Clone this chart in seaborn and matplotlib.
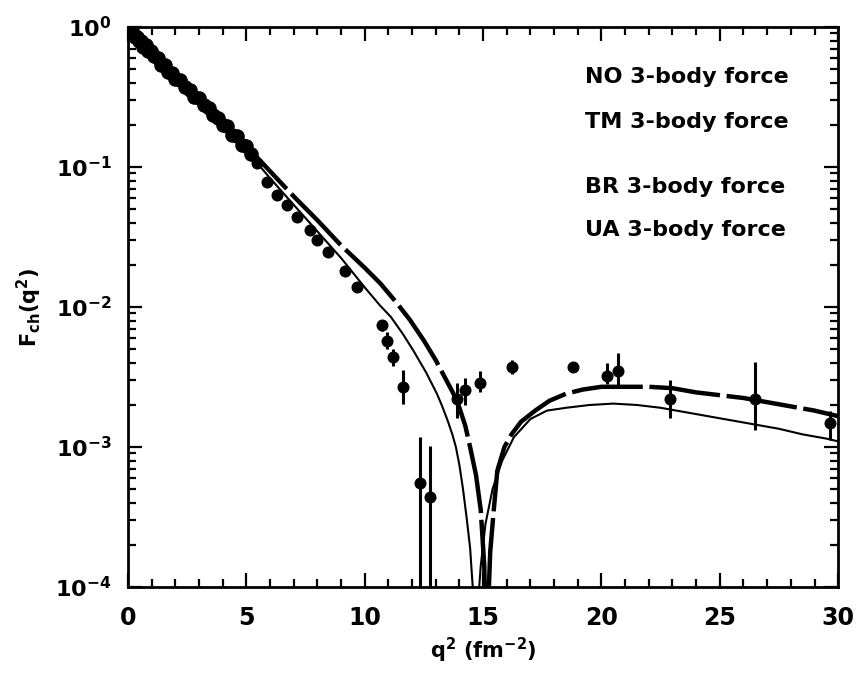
import numpy as np
import pandas as pd
import matplotlib
matplotlib.use("Agg")
import matplotlib.pyplot as plt
from matplotlib.ticker import FixedLocator, FixedFormatter, LogLocator, NullFormatter, MultipleLocator
import seaborn as sns

# ---------------- data (log10 F) ----------------
q_thick = [0, 1, 2, 3, 4, 5, 6, 7, 8, 9, 10, 10.65, 11.3, 11.9, 12.5, 13.0, 13.5, 13.75,
           14.0, 14.25, 14.45, 14.7, 14.9, 15.05, 15.13, 15.2, 15.3, 15.45, 15.6, 15.9,
           16.2, 16.6, 17.2, 17.8, 18.5, 19.2, 20, 21, 22, 23, 24, 25, 26, 27, 28, 29, 30]
log_thick = [0, -0.17, -0.34, -0.51, -0.68, -0.85, -1.03, -1.21, -1.38, -1.56, -1.72, -1.83,
             -1.96, -2.09, -2.24, -2.38, -2.54, -2.62, -2.72, -2.85, -3.0, -3.2, -3.45,
             -3.85, -4.6, -4.2, -3.75, -3.45, -3.17, -3.0, -2.91, -2.82, -2.74, -2.67,
             -2.62, -2.59, -2.57, -2.57, -2.57, -2.58, -2.61, -2.63, -2.65, -2.68, -2.71,
             -2.74, -2.78]

q_thin = [0, 1, 2, 3, 4, 5, 6, 7, 8, 9, 10, 10.65, 11.1, 11.6, 12.05, 12.6, 13.05, 13.25,
          13.5, 13.7, 13.85, 14.0, 14.15, 14.3, 14.45, 14.57, 14.65, 14.75, 14.9, 15.1,
          15.4, 15.8, 16.3, 17.0, 17.7, 18.5, 19.5, 20.5, 21.5, 22.5, 23.5, 24.5, 25.5,
          26.5, 27.5, 28.5, 29.5, 30]
log_thin = [0, -0.17, -0.34, -0.52, -0.70, -0.88, -1.08, -1.27, -1.46, -1.65, -1.86, -1.99,
            -2.07, -2.19, -2.31, -2.47, -2.62, -2.70, -2.81, -2.91, -3.0, -3.13, -3.3,
            -3.5, -3.72, -4.02, -4.6, -4.2, -3.85, -3.55, -3.3, -3.1, -2.93, -2.8, -2.74,
            -2.72, -2.70, -2.69, -2.70, -2.72, -2.75, -2.78, -2.81, -2.84, -2.87, -2.91,
            -2.94, -2.96]

band_q = [0.08, 0.15, 0.22, 0.3, 0.38, 0.45, 0.55, 0.65, 0.75, 0.85, 0.95, 1.1, 1.25, 1.4,
          1.55, 1.7, 1.85, 2.0, 2.2, 2.4, 2.6, 2.8, 3.0, 3.2, 3.4, 3.6, 3.8, 4.0, 4.2, 4.4,
          4.6, 4.8, 5.0, 5.2]
band_log = [-0.02, -0.04, -0.04, -0.07, -0.07, -0.10, -0.10, -0.14, -0.13, -0.17, -0.17,
            -0.21, -0.22, -0.27, -0.27, -0.32, -0.33, -0.37, -0.38, -0.43, -0.45, -0.50,
            -0.51, -0.56, -0.58, -0.63, -0.65, -0.70, -0.71, -0.77, -0.78, -0.84, -0.85, -0.91]

pts_q = [5.45, 5.87, 6.29, 6.72, 7.14, 7.69, 7.98, 8.45, 9.17, 9.67, 10.73, 10.94, 11.2,
         11.62, 12.34, 12.76, 13.9, 14.24, 14.87, 16.22, 18.8, 20.24, 20.7, 22.9, 26.5, 29.66]
pts_log = [-0.97, -1.11, -1.20, -1.27, -1.36, -1.45, -1.52, -1.61, -1.74, -1.86, -2.13,
           -2.24, -2.36, -2.57, -3.26, -3.36, -2.66, -2.59, -2.54, -2.43, -2.43, -2.49,
           -2.46, -2.66, -2.66, -2.83]
pts_hi = [-0.95, -1.09, -1.18, -1.25, -1.34, -1.43, -1.50, -1.59, -1.71, -1.83, -2.09,
          -2.18, -2.30, -2.45, -2.93, -2.99, -2.54, -2.51, -2.46, -2.38, -2.40, -2.40,
          -2.33, -2.52, -2.39, -2.74]
pts_lo = [-0.99, -1.13, -1.22, -1.29, -1.38, -1.47, -1.54, -1.63, -1.77, -1.89, -2.17,
          -2.30, -2.42, -2.69, -5.0, -5.0, -2.79, -2.70, -2.61, -2.48, -2.46, -2.55,
          -2.57, -2.79, -2.88, -2.95]

legend_labels = ["NO 3-body force", "TM 3-body force", "BR 3-body force", "UA 3-body force"]
x_ticks = [0, 5, 10, 15, 20, 25, 30]
y_ticks = [1e-4, 1e-3, 1e-2, 1e-1, 1e0]
y_ticklabels = [r"10$^{-4}$", r"10$^{-3}$", r"10$^{-2}$", r"10$^{-1}$", r"10$^{0}$"]

# ---------------- figure ----------------
sns.set_style("ticks")
plt.rcParams["font.family"] = ["DejaVu Sans"]
plt.rcParams["mathtext.default"] = "bf"
for key in ["text.color", "axes.labelcolor", "xtick.color", "ytick.color", "axes.edgecolor"]:
    plt.rcParams[key] = "black"

fig = plt.figure(figsize=(8.65, 6.76), dpi=100)
ax = fig.add_axes([0.148, 0.1317, 0.821, 0.8283])

thick = pd.DataFrame({"q": q_thick, "F": 10.0 ** np.array(log_thick)})
thin = pd.DataFrame({"q": q_thin, "F": 10.0 ** np.array(log_thin)})
band = pd.DataFrame({"q": band_q, "F": 10.0 ** np.array(band_log)})
pts = pd.DataFrame({"q": pts_q, "F": 10.0 ** np.array(pts_log),
                    "hi": 10.0 ** np.array(pts_hi), "lo": 10.0 ** np.array(pts_lo)})

sns.lineplot(data=thin, x="q", y="F", ax=ax, color="black", lw=1.5,
             estimator=None, sort=False)
sns.lineplot(data=thick, x="q", y="F", ax=ax, color="black", lw=3.2,
             estimator=None, sort=False, dashes=False)
ax.lines[-1].set_dashes((16, 1.5))

ax.vlines(pts["q"], pts["lo"], pts["hi"], color="black", lw=2.2)
sns.scatterplot(data=band, x="q", y="F", ax=ax, color="black", s=110,
                edgecolor="black", linewidth=0, zorder=4)
sns.scatterplot(data=pts, x="q", y="F", ax=ax, color="black", s=75,
                edgecolor="black", linewidth=0, zorder=4)

ax.set_yscale("log")
ax.set_xlim(0, 30)
ax.set_ylim(1e-4, 1)

ax.xaxis.set_major_locator(FixedLocator(x_ticks))
ax.xaxis.set_minor_locator(MultipleLocator(1))
ax.yaxis.set_major_locator(FixedLocator(y_ticks))
ax.yaxis.set_major_formatter(FixedFormatter(y_ticklabels))
ax.yaxis.set_minor_locator(LogLocator(base=10, subs=np.arange(2, 10)))
ax.yaxis.set_minor_formatter(NullFormatter())

ax.tick_params(which="both", direction="in", top=True, right=True, width=1.6,
               colors="black")
ax.tick_params(axis="x", labelsize=17, pad=14)
ax.tick_params(axis="y", labelsize=16, pad=12)
ax.tick_params(which="major", length=10)
ax.tick_params(which="minor", length=6)
for lab in ax.get_xticklabels() + ax.get_yticklabels():
    lab.set_fontweight("bold")

for sp in ax.spines.values():
    sp.set_linewidth(2)
    sp.set_color("black")

ax.set_xlabel(r"q$^{2}$ (fm$^{-2}$)", fontsize=15, fontweight="bold", labelpad=4)
ax.set_ylabel(r"F$_{ch}$(q$^{2}$)", fontsize=15, fontweight="bold", labelpad=8)

for lbl, yy in zip(legend_labels, [0.911, 0.830, 0.714, 0.6375]):
    ax.text(0.644, yy, lbl, transform=ax.transAxes, fontsize=16, fontweight="bold",
            va="center", ha="left")

fig.savefig("out.png", dpi=100)
